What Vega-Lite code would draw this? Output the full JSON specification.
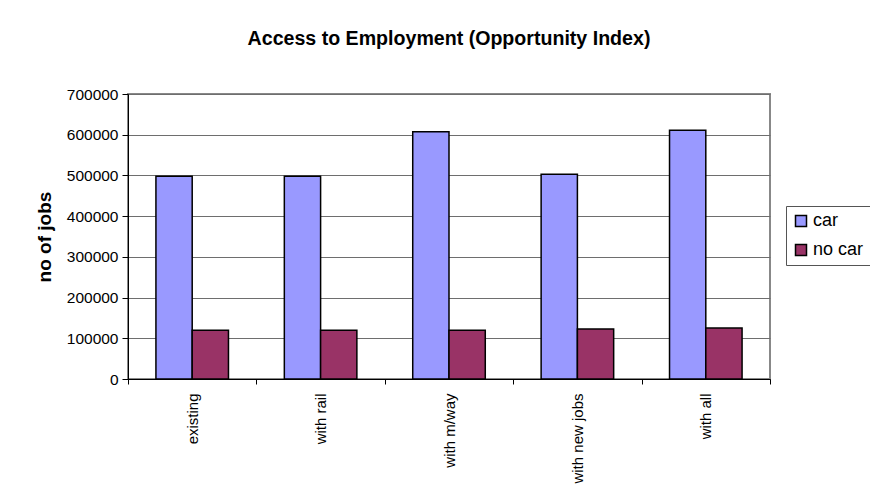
{
  "$schema": "https://vega.github.io/schema/vega-lite/v6.json",
  "width": 642,
  "height": 285,
  "autosize": {"type": "none"},
  "padding": {"left": 128, "top": 94, "right": 100, "bottom": 121},
  "background": "white",
  "title": {
    "text": "Access to Employment (Opportunity Index)",
    "font": "Liberation Sans",
    "fontSize": 19.6,
    "fontWeight": "bold",
    "color": "black",
    "anchor": "middle",
    "frame": "group",
    "offset": 37
  },
  "data": {
    "values": [
      {"scenario": "existing", "type": "car", "jobs": 498000},
      {"scenario": "existing", "type": "no car", "jobs": 119500},
      {"scenario": "with rail", "type": "car", "jobs": 498000},
      {"scenario": "with rail", "type": "no car", "jobs": 119500},
      {"scenario": "with m/way", "type": "car", "jobs": 607000},
      {"scenario": "with m/way", "type": "no car", "jobs": 120000},
      {"scenario": "with new jobs", "type": "car", "jobs": 503000},
      {"scenario": "with new jobs", "type": "no car", "jobs": 123000},
      {"scenario": "with all", "type": "car", "jobs": 611000},
      {"scenario": "with all", "type": "no car", "jobs": 125500}
    ]
  },
  "mark": {"type": "bar", "stroke": "black", "strokeWidth": 1.5},
  "encoding": {
    "x": {
      "field": "scenario",
      "type": "nominal",
      "sort": ["existing", "with rail", "with m/way", "with new jobs", "with all"],
      "scale": {"paddingInner": 0, "paddingOuter": 0},
      "axis": {
        "title": null,
        "labelAngle": -90,
        "tickBand": "extent",
        "grid": false,
        "domainColor": "black",
        "tickColor": "black",
        "tickSize": 5,
        "labelFont": "Liberation Sans",
        "labelFontSize": 15,
        "labelColor": "black",
        "labelPadding": 9
      }
    },
    "xOffset": {
      "field": "type",
      "type": "nominal",
      "sort": ["car", "no car"],
      "scale": {"paddingInner": 0, "paddingOuter": 0.77}
    },
    "y": {
      "field": "jobs",
      "type": "quantitative",
      "scale": {"domain": [0, 700000], "nice": false},
      "axis": {
        "values": [0, 100000, 200000, 300000, 400000, 500000, 600000, 700000],
        "format": "d",
        "grid": true,
        "gridColor": "#6e6e6e",
        "gridWidth": 1,
        "domainColor": "black",
        "tickColor": "black",
        "tickSize": 6,
        "labelFont": "Liberation Sans",
        "labelFontSize": 15.5,
        "labelColor": "black",
        "labelPadding": 4,
        "title": "no of jobs",
        "titleFont": "Liberation Sans",
        "titleFontSize": 19,
        "titleFontWeight": "bold",
        "titleColor": "black",
        "titlePadding": 12
      }
    },
    "color": {
      "field": "type",
      "type": "nominal",
      "scale": {"domain": ["car", "no car"], "range": ["#9999FF", "#993366"]},
      "legend": {
        "title": null,
        "orient": "none",
        "legendX": 658,
        "legendY": 112,
        "symbolType": "square",
        "symbolSize": 121,
        "symbolStrokeColor": "black",
        "symbolStrokeWidth": 1.5,
        "labelFont": "Liberation Sans",
        "labelFontSize": 18,
        "labelColor": "black",
        "labelOffset": 3,
        "rowPadding": 11,
        "padding": 6,
        "strokeColor": "#555555",
        "fillColor": "white"
      }
    }
  },
  "config": {
    "view": {"stroke": "#888888", "strokeWidth": 2, "fill": "white"}
  }
}
